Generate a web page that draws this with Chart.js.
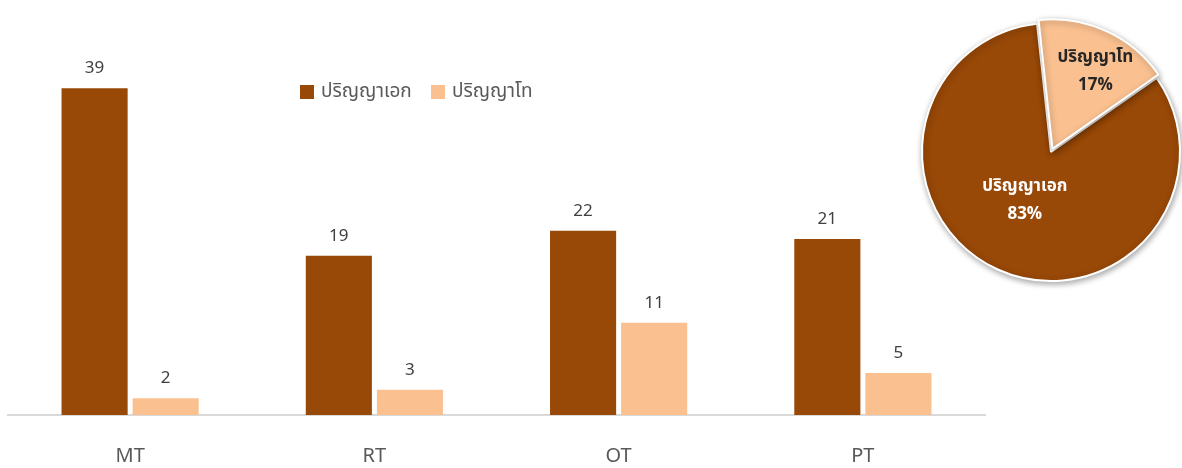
<!DOCTYPE html>
<html><head><meta charset="utf-8">
<script src="https://cdn.jsdelivr.net/npm/chart.js@4.4.1/dist/chart.umd.min.js"></script>
<style>
html,body{margin:0;padding:0;background:#fff;overflow:hidden;width:1182px;height:468px;}
#wrap{position:relative;width:1182px;height:468px;}
#bar{position:absolute;left:0;top:0;}
#pie{position:absolute;left:901px;top:2px;}
</style></head><body>
<div id="wrap">
<canvas id="bar" width="1182" height="468"></canvas>
<canvas id="pie" width="300" height="300"></canvas>
</div>
<script>
const categories = ['MT', 'RT', 'OT', 'PT'];
const seriesNames = ['ปริญญาเอก', 'ปริญญาโท'];
const phdValues = [39, 19, 22, 21];
const masterValues = [2, 3, 11, 5];
const pieLabels = ['ปริญญาเอก', 'ปริญญาโท'];
const pieValues = [83, 17];

const BROWN = '#984807';
const PEACH = '#FAC090';
const FONT = '"Noto Sans Thai","Noto Sans","Leelawadee UI",Tahoma,sans-serif';

const barLabelPlugin = {
  id: 'barLabels',
  afterDatasetsDraw(chart) {
    const ctx = chart.ctx;
    ctx.save();
    ctx.font = '17px ' + FONT;
    ctx.fillStyle = '#404040';
    ctx.textAlign = 'center';
    ctx.textBaseline = 'bottom';
    chart.data.datasets.forEach((ds, i) => {
      chart.getDatasetMeta(i).data.forEach((el, j) => {
        ctx.fillText(String(ds.data[j]), el.x, el.y - 10);
      });
    });
    ctx.restore();
  }
};

const legendPlugin = {
  id: 'customLegend',
  afterDraw(chart) {
    const ctx = chart.ctx;
    const items = [{x: 300}, {x: 431}];
    const y = 92;
    ctx.save();
    ctx.font = '19px ' + FONT;
    ctx.textBaseline = 'middle';
    ctx.textAlign = 'left';
    chart.data.datasets.forEach((ds, i) => {
      const x = items[i].x;
      ctx.fillStyle = ds.backgroundColor;
      ctx.fillRect(x, y - 7, 14, 14);
      ctx.fillStyle = '#595959';
      ctx.fillText(ds.label, x + 21, y + 1);
    });
    ctx.restore();
  }
};

new Chart(document.getElementById('bar'), {
  type: 'bar',
  data: {
    labels: categories,
    datasets: [
      {label: seriesNames[0], data: phdValues, backgroundColor: BROWN},
      {label: seriesNames[1], data: masterValues, backgroundColor: PEACH}
    ]
  },
  options: {
    responsive: false,
    animation: false,
    devicePixelRatio: 1,
    layout: {padding: {left: 8, right: 197, top: 38, bottom: 1}},
    categoryPercentage: 0.582,
    barPercentage: 0.93,
    plugins: {legend: {display: false}, tooltip: {enabled: false}},
    scales: {
      x: {
        grid: {display: false},
        border: {display: true, color: '#d9d9d9', width: 2},
        ticks: {color: '#595959', font: {size: 20, family: FONT}, padding: 23},
        afterFit(scale) { scale.height = 52; }
      },
      y: {display: false, min: 0, max: 45}
    }
  },
  plugins: [barLabelPlugin, legendPlugin]
});

const pieShadow = {
  id: 'pieShadow',
  beforeDatasetsDraw(chart) {
    const ctx = chart.ctx;
    ctx.save();
    ctx.shadowColor = 'rgba(0,0,0,0.35)';
    ctx.shadowBlur = 6;
    ctx.shadowOffsetX = 1;
    ctx.shadowOffsetY = 2;
  },
  afterDatasetsDraw(chart) {
    chart.ctx.restore();
  }
};

const pieLabelCfg = [
  {color: '#ffffff', angleShift: 3.5, dist: 56},
  {color: '#262626', angleShift: 5.5, dist: 0.6}
];
const pieLabelPlugin = {
  id: 'pieLabels',
  afterDatasetsDraw(chart) {
    const ctx = chart.ctx;
    const meta = chart.getDatasetMeta(0);
    const total = pieValues.reduce((a, b) => a + b, 0);
    ctx.save();
    ctx.textAlign = 'center';
    ctx.textBaseline = 'middle';
    meta.data.forEach((arc, i) => {
      const p = arc.getProps(['x', 'y', 'startAngle', 'endAngle', 'outerRadius'], true);
      const cfg = pieLabelCfg[i];
      const mid = (p.startAngle + p.endAngle) / 2 + cfg.angleShift * Math.PI / 180;
      const d = cfg.dist < 1 ? cfg.dist * p.outerRadius : cfg.dist;
      const off = chart.data.datasets[0].offset[i] || 0;
      const bis = (p.startAngle + p.endAngle) / 2;
      const cx = p.x + Math.cos(bis) * off + Math.cos(mid) * d;
      const cy = p.y + Math.sin(bis) * off + Math.sin(mid) * d;
      ctx.fillStyle = cfg.color;
      ctx.font = 'bold 17px ' + FONT;
      ctx.fillText(pieLabels[i], cx, cy - 14);
      ctx.fillText(Math.round(pieValues[i] / total * 100) + '%', cx, cy + 14);
    });
    ctx.restore();
  }
};

new Chart(document.getElementById('pie'), {
  type: 'pie',
  data: {
    labels: pieLabels,
    datasets: [{
      data: pieValues,
      backgroundColor: [BROWN, PEACH],
      borderColor: '#ffffff',
      borderWidth: 2,
      offset: [0, 14]
    }]
  },
  options: {
    responsive: false,
    animation: false,
    devicePixelRatio: 1,
    radius: 129,
    rotation: 55,
    plugins: {legend: {display: false}, tooltip: {enabled: false}}
  },
  plugins: [pieShadow, pieLabelPlugin]
});
</script>
</body></html>
